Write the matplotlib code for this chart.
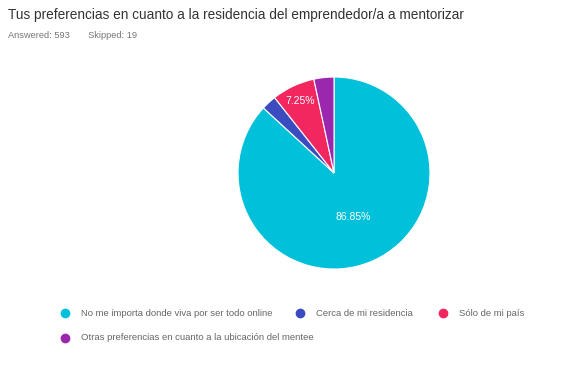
import matplotlib
matplotlib.use("Agg")
import numpy as np
from matplotlib import pyplot as plt
from matplotlib.lines import Line2D

plt.rcParams['font.family'] = ['Liberation Sans', 'DejaVu Sans']

title = 'Tus preferencias en cuanto a la residencia del emprendedor/a a mentorizar'
subtitle = 'Answered: 593       Skipped: 19'
labels = ['No me importa donde viva por ser todo online',
          'Cerca de mi residencia',
          'Sólo de mi país',
          'Otras preferencias en cuanto a la ubicación del mentee']
values = [86.85, 2.53, 7.25, 3.37]
colors = ['#00c0da', '#3b4cc0', '#f2275f', '#9b27af']
shown = ['86.85%', '', '7.25%', '']

fig = plt.figure(figsize=(5.69, 3.71), dpi=100)
fig.patch.set_facecolor('white')

ax = fig.add_axes([0.4183, 0.2749, 0.3374, 0.5175])
wedges, _ = ax.pie(values, colors=colors, startangle=90, counterclock=False,
                   wedgeprops=dict(edgecolor='white', linewidth=0.8))
ax.set_xlim(-1, 1)
ax.set_ylim(-1, 1)
ax.set_aspect('equal')

# percent labels inside slices
label_r = [0.5, 0.5, 0.83, 0.5]
for w, txt, r in zip(wedges, shown, label_r):
    if not txt:
        continue
    ang = np.deg2rad((w.theta1 + w.theta2) / 2)
    ax.text(r * np.cos(ang), r * np.sin(ang), txt, color='white',
            ha='center', va='center', fontsize=7.5)

fig.text(8 / 569, 1 - 15 / 371, title, fontsize=9.8, color='#333333',
         ha='left', va='center')
fig.text(8 / 569, 1 - 35 / 371, subtitle, fontsize=6.7, color='#777777',
         ha='left', va='center')

# legend, laid out like the survey tool
leg_pos = [(65, 313), (300, 313), (443, 313), (65, 338)]
for (px, py), lab, col in zip(leg_pos, labels, colors):
    fig.add_artist(Line2D([px / 569], [1 - py / 371], marker='o', markersize=6,
                          color=col, linestyle='none', transform=fig.transFigure))
    fig.text((px + 16) / 569, 1 - py / 371, lab, fontsize=6.8, color='#666666',
             ha='left', va='center')

fig.savefig('out.png', dpi=100)
